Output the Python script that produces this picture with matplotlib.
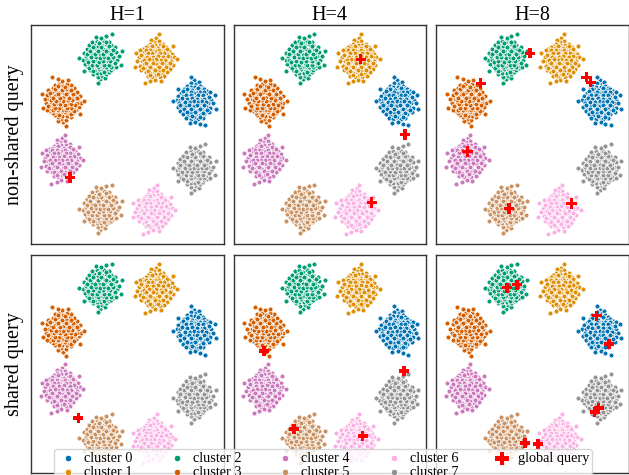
import numpy as np
import matplotlib
matplotlib.use("Agg")
import matplotlib.pyplot as plt

plt.rcParams['font.family'] = ['Liberation Serif', 'DejaVu Serif']

# ---------------- data ----------------
cluster_names = ["cluster %d" % i for i in range(8)]
cluster_colors = ['#0173b2', '#de8f05', '#029e73', '#d55e00',
                  '#cc78bc', '#ca9161', '#fbafe4', '#949494']

# cluster centres (same embedding in every panel)
center_x = [162, 124, 69, 32, 31, 69, 122, 162]
center_y = [141, 183, 186, 143, 83, 36, 33, 76]

# point offsets read from one blob, mirrored per cluster
blob_offsets = [
    (0, 24), (-3, 21), (2, 20), (5, 22),
    (-8, 18), (-4, 17), (1, 17), (6, 18), (9, 16),
    (-11, 14), (-6, 14), (-2, 13), (3, 14), (7, 13), (11, 14), (14, 12),
    (-14, 10), (-9, 11), (-5, 10), (0, 10), (4, 11), (9, 10), (13, 9), (17, 11),
    (-17, 7), (-12, 7), (-7, 6), (-2, 7), (2, 6), (6, 7), (11, 6), (15, 5),
    (-19, 3), (-15, 3), (-10, 2), (-5, 3), (0, 3), (4, 2), (8, 4), (13, 2), (18, 3),
    (-16, -1), (-12, -2), (-7, -1), (-3, -2), (2, -1), (6, -1), (10, -2), (15, -1), (20, -1),
    (-18, -5), (-13, -5), (-9, -4), (-4, -6), (0, -4), (5, -5), (9, -6), (13, -4), (17, -6),
    (-15, -9), (-10, -9), (-6, -10), (-1, -8), (3, -9), (8, -10), (12, -9), (16, -11),
    (-12, -13), (-7, -14), (-3, -12), (2, -13), (6, -14), (11, -13),
    (-9, -17), (-4, -18), (0, -16), (4, -18), (9, -17),
    (-5, -22), (1, -21), (6, -23),
    (-8, 15), (4, 16), (-12, 12), (-3, 11), (6, 11), (11, 11), (-9, 8), (-4, 8),
    (4, 8), (9, 8), (-13, 5), (-8, 4), (-2, 5), (3, 4), (10, 4), (16, 6),
    (-10, 0), (-5, 0), (0, 1), (4, 0), (8, 1), (13, 0), (-15, -3), (-6, -3),
    (3, -3), (11, -3), (-11, -7), (-3, -7), (6, -7), (14, -8), (-8, -11), (1, -11),
    (9, -12), (-2, -15), (6, -16),
    (-23, 1), (23, -7), (12, -25), (-18, 15), (-3, 28), (22, 8),
]
flip_x = [1, -1, 1, -1, -1, 1, -1, 1]
flip_y = [1, 1, -1, -1, 1, -1, 1, -1]

col_titles = ["H=1", "H=4", "H=8"]
row_labels = ["non-shared query", "shared query"]

# global query positions, [row][col] -> (xs, ys)
query_x = [
    [[39], [126, 170, 137], [93, 44, 149, 153, 31, 72, 134]],
    [[47], [30, 169, 60, 128], [70, 80, 159, 171, 157, 161, 88, 101]],
]
query_y = [
    [[66], [184, 109, 41], [190, 160, 166, 161, 92, 35, 40]],
    [[55], [122, 102, 44, 37], [185, 188, 157, 129, 61, 65, 30, 29]],
]

# ---------------- plot ----------------
fig, axes = plt.subplots(2, 3, figsize=(6.29, 4.75), dpi=100)
fig.subplots_adjust(left=0.049, right=1.0, top=0.947, bottom=0.004,
                    wspace=0.052, hspace=0.05)

off = np.array(blob_offsets, dtype=float) * 0.92
for r in range(2):
    for c in range(3):
        ax = axes[r, c]
        for k in range(8):
            px = center_x[k] + flip_x[k] * off[:, 0]
            py = center_y[k] + flip_y[k] * off[:, 1]
            ax.scatter(px, py, s=13, color=cluster_colors[k], edgecolors='white',
                       linewidths=0.6, label=cluster_names[k])
        ax.scatter(query_x[r][c], query_y[r][c], s=55, marker='P', color='red',
                   edgecolors='none', label='global query', zorder=5)
        ax.set_xlim(0, 191)
        ax.set_ylim(0, 218)
        ax.set_xticks([])
        ax.set_yticks([])
        for sp in ax.spines.values():
            sp.set_color('0.2')
            sp.set_linewidth(1.0)
        if r == 0:
            ax.set_title(col_titles[c], fontsize=14.5, pad=3)
        if c == 0:
            ax.set_ylabel(row_labels[r], fontsize=14.5, labelpad=5)

handles, labels = axes[0, 0].get_legend_handles_labels()
fig.legend(handles, labels, loc='upper left', bbox_to_anchor=(0.086, 0.054),
           borderaxespad=0, ncol=5, fontsize=10.3, markerscale=1.3,
           handlelength=1.6, handletextpad=0.32, columnspacing=2.27,
           borderpad=0.2, labelspacing=0.05)

fig.savefig("out.png", dpi=100)
